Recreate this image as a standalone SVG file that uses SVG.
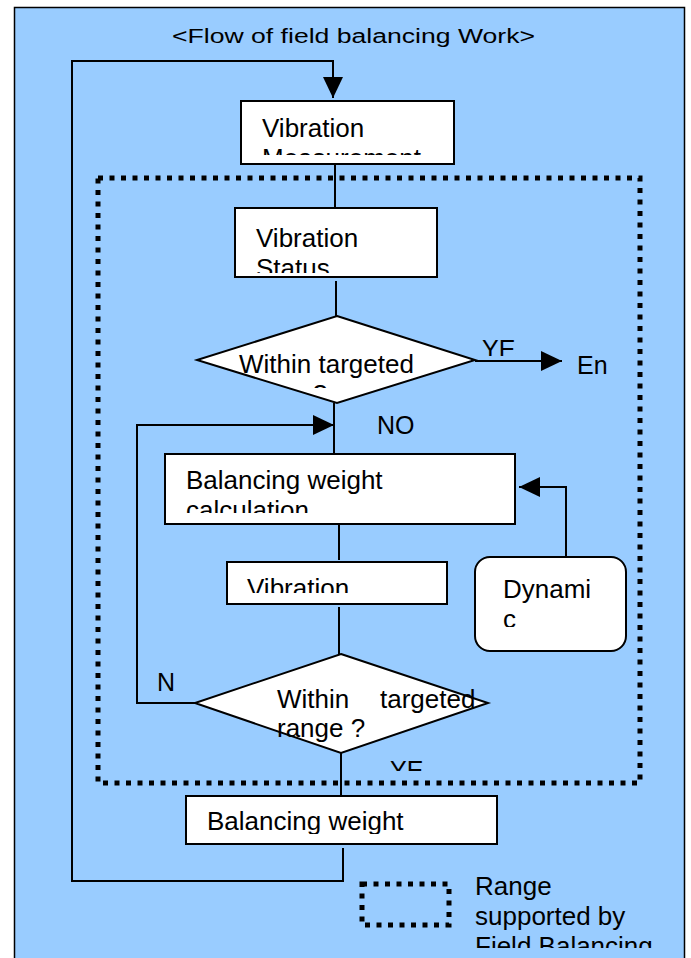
<svg xmlns="http://www.w3.org/2000/svg" width="691" height="958" viewBox="0 0 691 958">
<style>
.bg{fill:#99CCFF;stroke:#000;stroke-width:1.5}
.box{fill:#fff;stroke:#000;stroke-width:2}
.ln{fill:none;stroke:#000;stroke-width:2}
.dot{fill:none;stroke:#000;stroke-width:5;stroke-dasharray:5 6.5}
.t{font-family:"Liberation Sans",Arial,sans-serif;font-size:26px;fill:#000}
.l{font-family:"Liberation Sans",Arial,sans-serif;font-size:25px;fill:#000}
</style>
<defs>
<marker id="arr" viewBox="0 0 21 20" refX="21" refY="10" markerWidth="21" markerHeight="20" markerUnits="userSpaceOnUse" orient="auto">
<path d="M0,0 L21,10 L0,20 z" fill="#000"/>
</marker>
<clipPath id="c1" clipPathUnits="userSpaceOnUse"><rect x="243" y="103" width="209" height="52"/></clipPath>
<clipPath id="c2" clipPathUnits="userSpaceOnUse"><rect x="237" y="210" width="198" height="63"/></clipPath>
<clipPath id="c3" clipPathUnits="userSpaceOnUse"><rect x="200" y="320" width="280" height="68"/></clipPath>
<clipPath id="c4" clipPathUnits="userSpaceOnUse"><rect x="478" y="330" width="38" height="26"/></clipPath>
<clipPath id="c5" clipPathUnits="userSpaceOnUse"><rect x="167" y="456" width="346" height="57"/></clipPath>
<clipPath id="c6" clipPathUnits="userSpaceOnUse"><rect x="229" y="564" width="216" height="29"/></clipPath>
<clipPath id="c7" clipPathUnits="userSpaceOnUse"><rect x="477" y="559" width="147" height="68"/></clipPath>
<clipPath id="c8" clipPathUnits="userSpaceOnUse"><rect x="386" y="750" width="38" height="21"/></clipPath>
<clipPath id="c9" clipPathUnits="userSpaceOnUse"><rect x="188" y="798" width="307" height="36"/></clipPath>
<clipPath id="c10" clipPathUnits="userSpaceOnUse"><rect x="465" y="870" width="220" height="78"/></clipPath>
</defs>

<rect class="bg" x="14.5" y="7.5" width="670" height="960"/>
<text x="172" y="43" font-family="Liberation Sans,Arial,sans-serif" font-size="20" textLength="363" lengthAdjust="spacingAndGlyphs">&lt;Flow of field balancing Work&gt;</text>

<g id="range">
<rect class="dot" x="98" y="178" width="542" height="605"/>
</g>

<g id="connectors">
<polyline class="ln" points="343,848 343,881 72,881 72,61 333,61 333,98" marker-end="url(#arr)"/>
<line class="ln" x1="335" y1="164" x2="335" y2="208"/>
<line class="ln" x1="336" y1="281" x2="336" y2="316"/>
<line class="ln" x1="475" y1="361" x2="562" y2="361" marker-end="url(#arr)"/>
<line class="ln" x1="334" y1="403" x2="334" y2="454"/>
<polyline class="ln" points="195,703 137,703 137,425 334,425" marker-end="url(#arr)"/>
<line class="ln" x1="339" y1="524" x2="339" y2="560"/>
<polyline class="ln" points="566,557 566,487 519,487" marker-end="url(#arr)"/>
<line class="ln" x1="339" y1="607" x2="339" y2="654"/>
<line class="ln" x1="341" y1="753" x2="341" y2="796"/>
<g clip-path="url(#c4)"><text class="l" x="482" y="358">YES</text></g>
<text class="l" x="577" y="374">En</text>
<text class="l" x="377" y="434">NO</text>
<text class="l" x="157" y="691" font-size="21">N</text>
<g clip-path="url(#c8)"><text class="l" x="390" y="779">YES</text></g>
</g>

<g id="n1">
<rect class="box" x="241" y="101" width="213" height="63"/>
<g clip-path="url(#c1)"><text class="t" x="262" y="137">Vibration<tspan x="262" dy="30">Measurement</tspan></text></g>
</g>

<g id="n2">
<rect class="box" x="235" y="208" width="202" height="69"/>
<g clip-path="url(#c2)"><text class="t" x="256" y="247">Vibration<tspan x="256" dy="30">Status</tspan></text></g>
</g>

<g id="d1">
<polygon class="box" points="337,316 475,360 337,403 197,360"/>
<g clip-path="url(#c3)"><text class="t" x="239" y="373">Within targeted<tspan x="239" dy="30">range ?</tspan></text></g>
</g>

<g id="n3">
<rect class="box" x="165" y="454" width="350" height="70"/>
<g clip-path="url(#c5)"><text class="t" x="186" y="489">Balancing weight<tspan x="186" dy="30">calculation</tspan></text></g>
</g>

<g id="n4">
<rect class="box" x="227" y="562" width="220" height="42"/>
<g clip-path="url(#c6)"><text class="t" x="247" y="597">Vibration</text></g>
</g>

<g id="n5">
<rect class="box" x="475" y="557" width="151" height="94" rx="15" ry="15"/>
<g clip-path="url(#c7)"><text class="t" x="503" y="598">Dynami<tspan x="503" dy="30">c</tspan></text></g>
</g>

<g id="d2">
<polygon class="box" points="341,654 488,703 341,753 195,703"/>
<text class="t" x="277" y="708">Within<tspan x="380">targeted</tspan><tspan x="277" y="737">range ?</tspan></text>
</g>

<g id="n6">
<rect class="box" x="186" y="796" width="311" height="48"/>
<g clip-path="url(#c9)"><text class="t" x="207" y="830">Balancing weight</text></g>
</g>

<g id="legend">
<rect class="dot" x="362" y="884" width="87" height="41"/>
<g clip-path="url(#c10)"><text class="t" x="475" y="895">Range<tspan x="475" dy="30">supported by</tspan><tspan x="475" dy="30">Field Balancing</tspan></text></g>
</g>
</svg>
